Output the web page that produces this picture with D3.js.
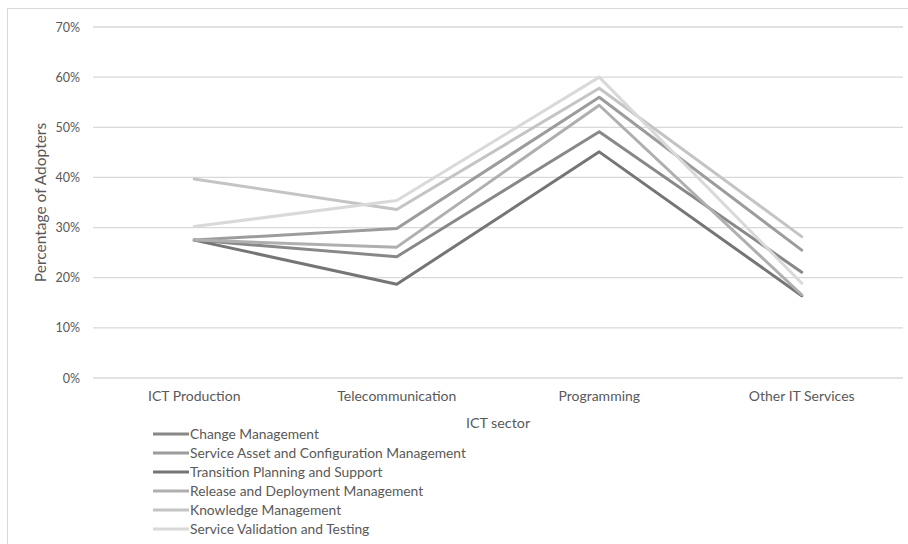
<!DOCTYPE html>
<html>
<head>
<meta charset="utf-8">
<script src="https://cdn.jsdelivr.net/npm/d3@7"></script>
<style>
  html, body { margin: 0; padding: 0; background: #fff; }
  svg { display: block; font-family: Lato, "Open Sans", sans-serif; }
</style>
</head>
<body>
<svg id="chart" width="908" height="544"></svg>
<script>
// ICT sectors along the x axis
const sectors = ["ICT Production", "Telecommunication", "Programming", "Other IT Services"];

// Share of adopters per ITIL process, one value per sector
const changeManagement       = [0.275, 0.242, 0.491, 0.211];
const serviceAssetConfig     = [0.275, 0.298, 0.560, 0.255];
const transitionPlanning     = [0.275, 0.187, 0.451, 0.164];
const releaseDeployment      = [0.275, 0.261, 0.544, 0.166];
const knowledgeManagement    = [0.397, 0.336, 0.578, 0.282];
const serviceValidation      = [0.302, 0.354, 0.600, 0.189];

const seriesNames = [
  "Change Management",
  "Service Asset and Configuration Management",
  "Transition Planning and Support",
  "Release and Deployment Management",
  "Knowledge Management",
  "Service Validation and Testing"
];
const seriesValues = [
  changeManagement, serviceAssetConfig, transitionPlanning,
  releaseDeployment, knowledgeManagement, serviceValidation
];
const seriesColors = ["#888888", "#9c9c9c", "#757575", "#afafaf", "#c4c4c4", "#d9d9d9"];

const yTicks = [0, 0.1, 0.2, 0.3, 0.4, 0.5, 0.6, 0.7];

const svg = d3.select("#chart");
const textColor = "#595959";

// outer chart frame
svg.append("rect")
  .attr("x", 7.5).attr("y", 8.5)
  .attr("width", 910).attr("height", 545)
  .attr("fill", "none").attr("stroke", "#d9d9d9").attr("stroke-width", 1);

const plot = { left: 93, right: 903, top: 27, bottom: 378 };

const x = d3.scaleBand().domain(sectors).range([plot.left, plot.right]);
const y = d3.scaleLinear().domain([0, 0.7]).range([plot.bottom, plot.top]);

// horizontal gridlines
svg.append("g")
  .selectAll("line")
  .data(yTicks)
  .join("line")
  .attr("x1", plot.left).attr("x2", plot.right)
  .attr("y1", d => y(d)).attr("y2", d => y(d))
  .attr("stroke", "#d9d9d9").attr("stroke-width", 1.3);

// y axis tick labels
const yAxis = d3.axisLeft(y).tickValues(yTicks).tickFormat(d3.format(".0%")).tickSize(0).tickPadding(13);
const gy = svg.append("g").attr("transform", `translate(${plot.left},0)`).call(yAxis);
gy.select(".domain").remove();
gy.selectAll("text").attr("fill", textColor).style("font-size", "12.5px").style("font-family", "Lato, sans-serif");

// x axis category labels
const xAxis = d3.axisBottom(x).tickSize(0).tickPadding(13);
const gx = svg.append("g").attr("transform", `translate(0,${plot.bottom})`).call(xAxis);
gx.select(".domain").remove();
gx.selectAll("text").attr("fill", textColor).style("font-size", "14px").style("font-family", "Lato, sans-serif");

// axis titles
svg.append("text")
  .attr("transform", `translate(46,${(plot.top + plot.bottom) / 2}) rotate(-90)`)
  .attr("text-anchor", "middle")
  .attr("fill", textColor).style("font-size", "15.5px")
  .text("Percentage of Adopters");

svg.append("text")
  .attr("x", (plot.left + plot.right) / 2).attr("y", 428)
  .attr("text-anchor", "middle")
  .attr("fill", textColor).style("font-size", "14.3px")
  .text("ICT sector");

// series lines
const line = d3.line()
  .x((d, i) => x(sectors[i]) + x.bandwidth() / 2)
  .y(d => y(d));

svg.append("g")
  .selectAll("path")
  .data(seriesValues)
  .join("path")
  .attr("d", line)
  .attr("fill", "none")
  .attr("stroke", (d, i) => seriesColors[i])
  .attr("stroke-width", 3)
  .attr("stroke-linejoin", "round")
  .attr("stroke-linecap", "round");

// legend
const legend = svg.append("g").attr("transform", "translate(153,434)");
const rows = legend.selectAll("g")
  .data(seriesNames)
  .join("g")
  .attr("transform", (d, i) => `translate(0,${i * 19})`);
rows.append("line")
  .attr("x1", 0).attr("x2", 36).attr("y1", 0).attr("y2", 0)
  .attr("stroke", (d, i) => seriesColors[i]).attr("stroke-width", 3);
rows.append("text")
  .attr("x", 37).attr("y", 0).attr("dy", "0.35em")
  .attr("fill", textColor).style("font-size", "13.8px")
  .text(d => d);
</script>
</body>
</html>
